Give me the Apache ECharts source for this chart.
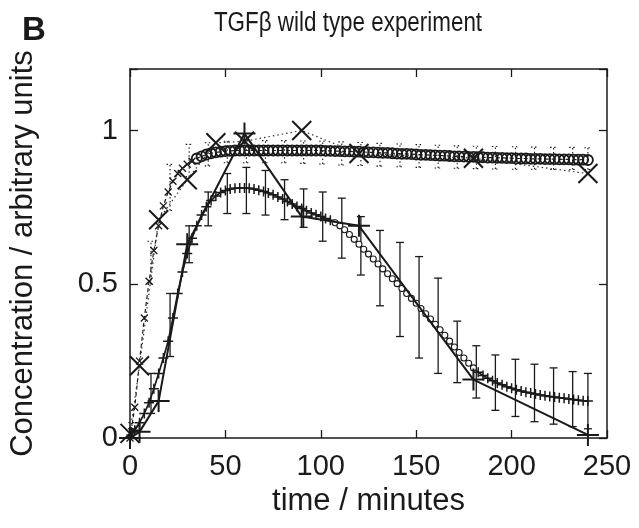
<!DOCTYPE html>
<html>
<head>
<meta charset="utf-8">
<script src="https://cdn.jsdelivr.net/npm/echarts@6/dist/echarts.min.js"></script>
<style>html,body{margin:0;padding:0;background:#fff}#c{width:639px;height:528px}</style>
</head>
<body>
<div id="c"></div>
<script>
// ---- data ----
const modelTimes = [0,2.5,5,7.5,10,12.5,15,17.5,20,22.5,25,27.5,30,32.5,35,37.5,40,42.5,45,47.5,50,52.5,55,57.5,60,62.5,65,67.5,70,72.5,75,77.5,80,82.5,85,87.5,90,92.5,95,97.5,100,102.5,105,107.5,110,112.5,115,117.5,120,122.5,125,127.5,130,132.5,135,137.5,140,142.5,145,147.5,150,152.5,155,157.5,160,162.5,165,167.5,170,172.5,175,177.5,180,182.5,185,187.5,190,192.5,195,197.5,200,202.5,205,207.5,210,212.5,215,217.5,220,222.5,225,227.5,230,232.5,235,237.5,240];
const lowerModel = [0,0.025,0.05,0.08,0.115,0.16,0.21,0.26,0.315,0.39,0.47,0.54,0.60,0.65,0.69,0.725,0.752,0.772,0.787,0.798,0.805,0.81,0.812,0.813,0.813,0.812,0.81,0.806,0.802,0.797,0.791,0.784,0.777,0.769,0.761,0.753,0.746,0.739,0.732,0.726,0.72,0.714,0.708,0.70,0.69,0.677,0.662,0.646,0.63,0.614,0.598,0.582,0.566,0.55,0.534,0.518,0.502,0.486,0.47,0.454,0.438,0.421,0.404,0.387,0.37,0.352,0.334,0.315,0.296,0.278,0.26,0.243,0.228,0.214,0.203,0.194,0.186,0.179,0.173,0.167,0.162,0.157,0.153,0.149,0.146,0.143,0.14,0.137,0.135,0.133,0.131,0.129,0.127,0.125,0.123,0.121,0.12];
const upperModel = [0,0.10,0.25,0.39,0.51,0.61,0.69,0.755,0.80,0.835,0.86,0.877,0.89,0.90,0.909,0.916,0.922,0.926,0.929,0.931,0.933,0.934,0.935,0.935,0.935,0.935,0.935,0.935,0.935,0.935,0.935,0.935,0.935,0.935,0.935,0.935,0.935,0.935,0.935,0.935,0.935,0.934,0.934,0.933,0.933,0.932,0.932,0.931,0.931,0.93,0.929,0.929,0.928,0.927,0.927,0.926,0.925,0.924,0.924,0.923,0.922,0.921,0.921,0.92,0.919,0.918,0.918,0.917,0.916,0.916,0.915,0.914,0.914,0.913,0.913,0.912,0.912,0.911,0.911,0.91,0.91,0.909,0.909,0.909,0.908,0.908,0.908,0.907,0.907,0.907,0.906,0.906,0.906,0.905,0.905,0.905,0.904];

const lowerDataTimes = [0,5,15,30,60,90,120,180,240];
const lowerData = [0.0,0.02,0.12,0.63,0.99,0.72,0.69,0.19,0.01];
const upperDataTimes = [0,5,15,30,45,60,90,120,180,240];
const upperData = [0.015,0.235,0.71,0.84,0.96,0.965,1.0,0.925,0.91,0.86];

const errTimes = [1,11,21,31,41,51,61,71,81,91,101,111,121,131,141.5,151.5,161.5,171.5,181.5,191.5,202,212,222,232,240];
const lowerErrLow  = [0.0,0.08,0.265,0.57,0.69,0.73,0.73,0.725,0.71,0.685,0.64,0.585,0.53,0.43,0.33,0.26,0.21,0.18,0.13,0.09,0.07,0.053,0.045,0.037,0.03];
const lowerErrHigh = [0.03,0.21,0.47,0.69,0.80,0.86,0.88,0.87,0.84,0.81,0.80,0.78,0.72,0.675,0.636,0.59,0.52,0.38,0.30,0.27,0.256,0.24,0.228,0.216,0.21];
const upperErrLow  = [0.0,0.5,0.74,0.85,0.885,0.895,0.895,0.895,0.895,0.893,0.891,0.888,0.886,0.884,0.882,0.88,0.878,0.877,0.876,0.875,0.874,0.874,0.873,0.873,0.873];
const upperErrHigh = [0.05,0.64,0.89,0.955,0.96,0.965,0.967,0.967,0.967,0.966,0.965,0.963,0.961,0.958,0.956,0.954,0.952,0.95,0.949,0.948,0.947,0.946,0.945,0.945,0.944];

const xTicks = [0,50,100,150,200,250];
const yTickLabels = [0,0.5,1];

// ---- styling ----
const INK = '#1a1a1a';
const FONT = '"Liberation Sans", Arial, Helvetica, sans-serif';
const X_PATH = 'path://M0,0L10,10M10,0L0,10';
const PLUS_PATH = 'path://M5,0L5,10M0,5L10,5';

function errSeries(times, lo, hi, dashed, capW, width) {
  return {
    type: 'custom', z: 1, silent: true,
    encode: { x: 0, y: [1, 2] },
    data: times.map((t, i) => [t, lo[i], hi[i]]),
    renderItem: function (params, api) {
      const t = api.value(0);
      const a = api.coord([t, api.value(1)]);
      const b = api.coord([t, api.value(2)]);
      const st = { stroke: INK, lineWidth: width, lineDash: dashed ? [1.5, 2.5] : null };
      return { type: 'group', children: [
        { type: 'line', shape: { x1: a[0], y1: a[1], x2: b[0], y2: b[1] }, style: st },
        { type: 'line', shape: { x1: a[0] - capW, y1: a[1], x2: a[0] + capW, y2: a[1] }, style: st },
        { type: 'line', shape: { x1: b[0] - capW, y1: b[1], x2: b[0] + capW, y2: b[1] }, style: st }
      ]};
    }
  };
}

const chart = echarts.init(document.getElementById('c'), null, { renderer: 'canvas' });

const axisCommon = {
  axisLine: { show: true, onZero: false, lineStyle: { color: INK, width: 1.5 } },
  axisTick: { show: true, inside: true, length: 8, lineStyle: { color: INK, width: 1.3 } },
  splitLine: { show: false }
};

chart.setOption({
  animation: false,
  backgroundColor: '#fff',
  textStyle: { fontFamily: FONT },
  grid: { left: 126, top: 69, right: 32, bottom: 90, containLabel: false },
  graphic: [
    { type: 'text', left: 22, top: 14, style: { text: 'B', font: 'bold 33px ' + FONT, fill: INK } },
    { type: 'text', x: 348, y: 24, scaleX: 0.83, style: { text: 'TGFβ wild type experiment', font: '27px ' + FONT, fill: INK, textAlign: 'center', textVerticalAlign: 'middle' } }
  ],
  xAxis: [
    Object.assign({}, axisCommon, {
      type: 'value', position: 'bottom', min: xTicks[0], max: xTicks[xTicks.length - 1], interval: 50,
      axisLabel: { fontSize: 29, color: INK, margin: 14, fontFamily: FONT },
      name: 'time / minutes', nameLocation: 'middle', nameGap: 47,
      nameTextStyle: { fontSize: 31, color: INK, fontFamily: FONT }
    }),
    Object.assign({}, axisCommon, {
      type: 'value', position: 'top', min: xTicks[0], max: xTicks[xTicks.length - 1], interval: 50,
      axisLabel: { show: false }
    })
  ],
  yAxis: [
    Object.assign({}, axisCommon, {
      type: 'value', position: 'left', min: 0, max: 1.2, interval: 0.5,
      axisLabel: { fontSize: 29, color: INK, margin: 12, fontFamily: FONT,
        formatter: v => (yTickLabels.indexOf(Math.round(v * 100) / 100) >= 0 ? String(Math.round(v * 100) / 100) : '') },
      name: 'Concentration / arbitrary units', nameLocation: 'middle', nameGap: 91, nameRotate: 90,
      nameTextStyle: { fontSize: 31, color: INK, fontFamily: FONT }
    }),
    Object.assign({}, axisCommon, {
      type: 'value', position: 'right', min: 0, max: 1.2, interval: 0.5,
      axisLabel: { show: false }
    })
  ],
  series: [
    errSeries(errTimes, upperErrLow, upperErrHigh, true, 3.5, 1.1),
    errSeries(errTimes, lowerErrLow, lowerErrHigh, false, 4, 1.3),
    {
      type: 'line', z: 2, silent: true, showAllSymbol: true,
      lineStyle: { color: INK, width: 1.2, type: [4, 3] },
      data: modelTimes.map((t, i) => ({
        value: [t, upperModel[i]],
        symbol: t < 35 ? X_PATH : 'circle',
        symbolSize: t < 35 ? 7 : 10,
        itemStyle: { color: 'none', borderColor: INK, borderWidth: t < 35 ? 1.3 : 1.8 }
      }))
    },
    {
      type: 'line', z: 2, silent: true, showAllSymbol: true,
      lineStyle: { color: INK, width: 1.7 },
      data: modelTimes.map((t, i) => {
        const circ = t >= 107 && t <= 181;
        return {
          value: [t, lowerModel[i]],
          symbol: circ ? 'circle' : PLUS_PATH,
          symbolSize: circ ? 6 : 10,
          itemStyle: { color: circ ? '#fff' : 'none', borderColor: INK, borderWidth: circ ? 1.1 : 1.5 }
        };
      })
    },
    {
      type: 'line', z: 3, silent: true, showAllSymbol: true,
      symbol: X_PATH, symbolSize: 19,
      itemStyle: { color: 'none', borderColor: INK, borderWidth: 2 },
      lineStyle: { color: '#333', width: 1.2, type: [1.5, 3] },
      data: upperDataTimes.map((t, i) => [t, upperData[i]])
    },
    {
      type: 'line', z: 3, silent: true, showAllSymbol: true,
      symbol: PLUS_PATH, symbolSize: 22,
      itemStyle: { color: 'none', borderColor: INK, borderWidth: 2 },
      lineStyle: { color: INK, width: 2 },
      data: lowerDataTimes.map((t, i) => [t, lowerData[i]])
    }
  ]
});
</script>
</body>
</html>
